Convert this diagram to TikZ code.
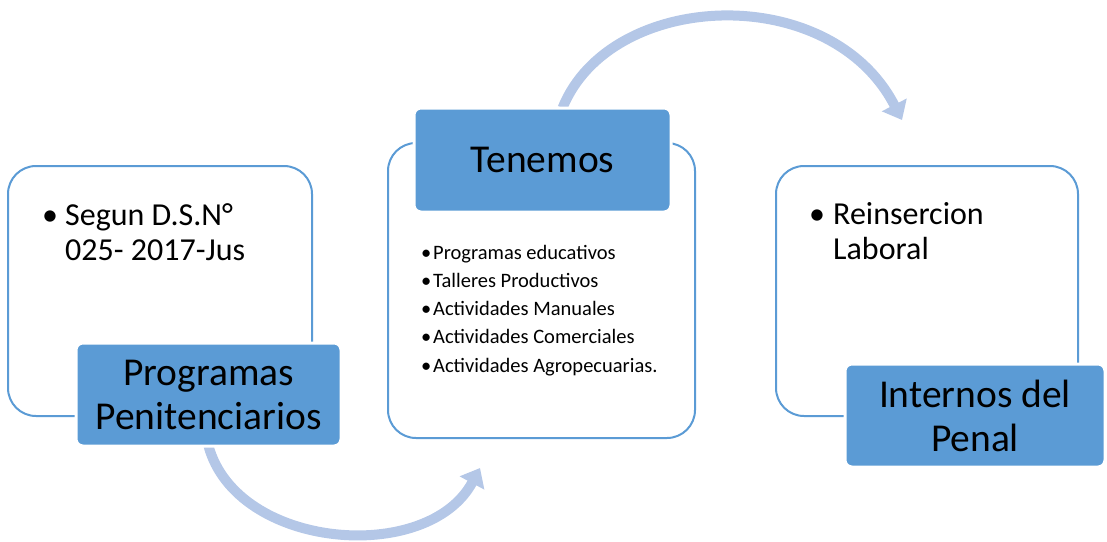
\documentclass[tikz,border=0pt]{standalone}
\usepackage{fontspec}
\setmainfont{Carlito}
\usetikzlibrary{arrows.meta,backgrounds}

\definecolor{boxblue}{HTML}{5B9BD5}
\definecolor{arcblue}{HTML}{B4C7E7}

\begin{document}
\begin{tikzpicture}[x=1pt,y=-1pt,>={Triangle[length=17pt,width=27pt]},
    panel/.style={draw=boxblue,line width=2pt,rounded corners=28pt,inner sep=0pt,outer sep=0pt},
    title/.style={fill=boxblue,draw=white,line width=3pt,rounded corners=7pt,align=center,inner sep=0pt,outer sep=0pt,font=\fontsize{39.5}{44}\selectfont},
    bullets/.style={align=left,inner sep=0pt,anchor=base west},
    flow/.style={->,draw=arcblue,line width=10pt}]

                \useasboundingbox (0,0) rectangle (1107,541);

                \node[panel,minimum width=304pt,minimum height=250pt] (p1) at (160,291) {};
                \node[panel,minimum width=307pt,minimum height=295pt] (p2) at (541.5,290.5) {};
                \node[panel,minimum width=302pt,minimum height=250pt] (p3) at (927,291) {};

                \node[bullets,font=\fontsize{32}{35}\selectfont] (seg) at (42,260) {\makebox[23pt][l]{•}Segun D.S.N°\\\hspace*{23pt}025- 2017-Jus};
                \node[bullets,font=\fontsize{20.5}{28.2}\selectfont] (list) at (421,372) {\makebox[12pt][l]{•}Programas educativos\\\makebox[12pt][l]{•}Talleres Productivos\\\makebox[12pt][l]{•}Actividades Manuales\\\makebox[12pt][l]{•}Actividades Comerciales\\\makebox[12pt][l]{•}Actividades Agropecuarias.};
                \node[bullets,font=\fontsize{32}{35}\selectfont] (rein) at (809,259) {\makebox[24pt][l]{•}Reinsercion\\\hspace*{24pt}Laboral};

                \coordinate (e1) at (480,468);
                \coordinate (e2) at (902,120);

                \node[title,minimum width=265pt,minimum height=103pt] (pp) at (208.5,394.5) {Programas\\Penitenciarios};
                \node[title,minimum width=257pt,minimum height=104pt] (ten) at (542.5,160) {Tenemos};
                \node[title,minimum width=260pt,minimum height=103pt] (int) at (975,415.5) {Internos del\\Penal};

                \begin{scope}[on background layer]
                \path[flow] (pp.south) .. controls (237,550) and (428,565) .. (e1);
                \path[flow] ([xshift=20pt]ten.north) .. controls (610,-10) and (830,-20) .. (e2);
                \end{scope}

\end{tikzpicture}
\end{document}
